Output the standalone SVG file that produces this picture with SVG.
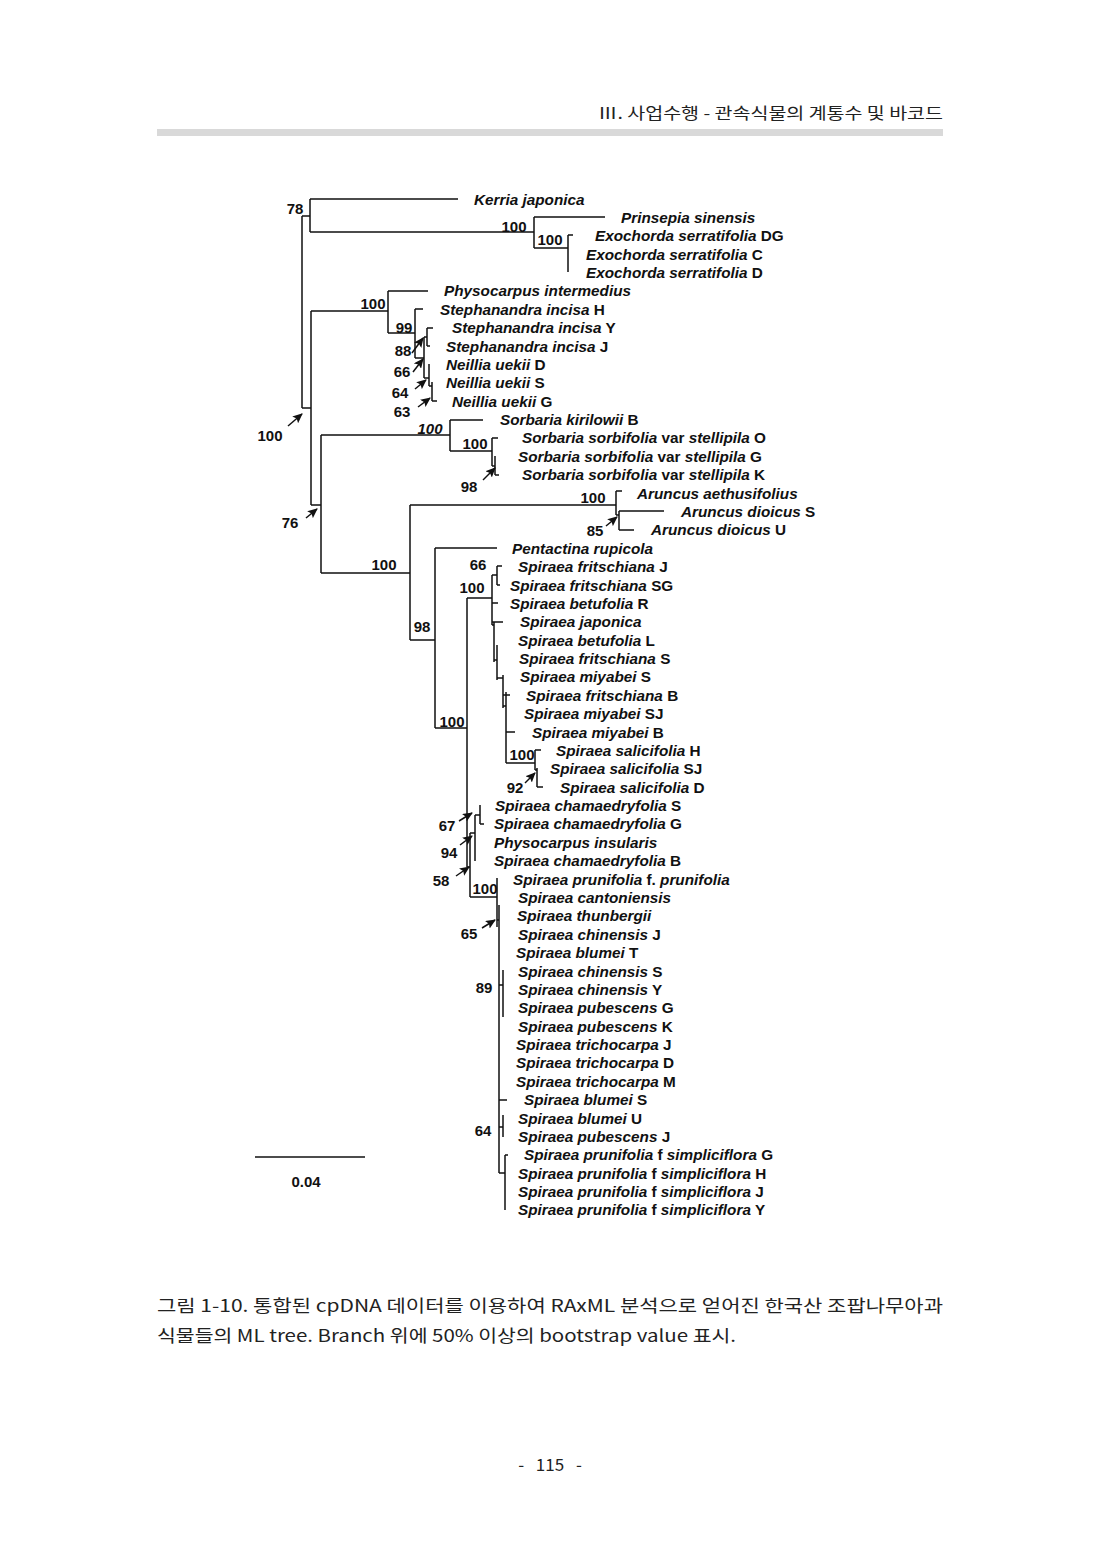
<svg xmlns="http://www.w3.org/2000/svg" width="1100" height="1554" viewBox="0 0 1100 1554">
<defs>
<style>
.sp{font-family:"Liberation Sans",Arial,sans-serif;font-size:15.3px;font-weight:bold;font-style:italic;fill:#111}
.n{font-style:normal}
.bs{font-family:"Liberation Sans",Arial,sans-serif;font-size:15px;font-weight:bold;fill:#111;text-anchor:middle}
.br{stroke:#111;stroke-width:1.5;fill:none}
.ar{stroke:#111;stroke-width:1.5;fill:none;marker-end:url(#ah)}
.kr{font-family:"Noto Sans CJK KR","Noto Sans",sans-serif;fill:#222}
</style>
<marker id="ah" markerUnits="userSpaceOnUse" markerWidth="10" markerHeight="9" refX="9" refY="4.5" orient="auto">
<path d="M0,0 L10,4.5 L0,9 L2,4.5 Z" fill="#111"/>
</marker>
</defs>
<rect width="1100" height="1554" fill="#fff"/>

<g id="header">
<text class="kr" x="598" y="119" font-size="16" textLength="345" lengthAdjust="spacingAndGlyphs">Ⅲ. 사업수행 - 관속식물의 계통수 및 바코드</text>
<rect x="157" y="129" width="786" height="7" fill="#d9d9d9"/>
</g>

<g id="connectors">
<path class="br" d="M302,216 V408 M302,216 H310 M310,199 V232 M310,199 H458 M310,232 H534
M534,217 V248 M534,217 H605 M534,248 H568 M568,235 V272 M568,235 H573
M302,408 H311 M311,311 V505 M311,311 H388
M388,291 V333 M388,291 H428 M388,333 H415
M415,309 V358 M415,309 H423 M415,358 H424
M424,337 V378 M424,337 H427 M427,328 V346 M427,328 H433 M427,346 H430
M424,378 H429 M429,364 V386 M429,386 H432 M432,382 V401 M432,401 H437
M311,505 H321 M321,435 V573 M321,435 H450
M450,420 V451 M450,420 H483 M450,451 H492
M492,438 V466 M492,438 H498 M492,466 H495 M495,456 V475 M495,475 H499
M321,573 H410 M410,505 V640 M410,505 H616
M616,491 V515 M616,491 H622 M616,515 H619 M619,511 V530 M619,511 H664 M619,530 H634
M410,640 H435 M435,548 V728 M435,548 H497 M435,728 H467
M467,598 V867 M467,598 H492
M492,575 V625 M492,575 H497 M497,566 V585 M497,566 H502 M497,585 H500
M492,603 H498 M492,622 H503
M492,625 H494 M494,622 V662 M494,660 H497 M497,645 V680 M497,678 H503 M503,675 V708 M503,706 H506 M506,692 V763
M503,695 H510 M506,732 H515 M506,763 H535
M535,750 V770 M535,750 H541 M535,770 H537 M537,768 V787 M537,787 H543
M467,867 H470 M470,833 V897 M470,833 H475 M475,815 V861 M475,815 H480 M480,805 V824 M480,824 H484
M470,897 H497 M497,878 V927 M497,920 H499 M499,905 V1173
M499,985 H503 M503,970 V1017
M499,1100 H507
M499,1127 H503 M503,1115 V1137
M499,1173 H505 M505,1155 V1210 M505,1155 H508"/>
<path class="ar" d="M412,353 L423,338"/>
<path class="ar" d="M413,372 L423,359"/>
<path class="ar" d="M415,389 L426,380"/>
<path class="ar" d="M418,407 L430,398"/>
<path class="ar" d="M288,426 L302,414"/>
<path class="ar" d="M306,518 L317,509"/>
<path class="ar" d="M483,480 L495,468"/>
<path class="ar" d="M606,526 L617,517"/>
<path class="ar" d="M525,783 L535,773"/>
<path class="ar" d="M459,821 L472,813"/>
<path class="ar" d="M460,845 L472,836"/>
<path class="ar" d="M456,876 L469,867"/>
<path class="ar" d="M482,928 L495,920"/>
</g>

<g id="support">
<text class="bs" x="295" y="214">78</text>
<text class="bs" x="514" y="232">100</text>
<text class="bs" x="550" y="245">100</text>
<text class="bs" x="373" y="309">100</text>
<text class="bs" x="404" y="333">99</text>
<text class="bs" x="403" y="356">88</text>
<text class="bs" x="402" y="377">66</text>
<text class="bs" x="400" y="398">64</text>
<text class="bs" x="402" y="417">63</text>
<text class="bs" x="270" y="441">100</text>
<text class="bs" x="430" y="434" font-style="italic">100</text>
<text class="bs" x="475" y="449">100</text>
<text class="bs" x="469" y="492">98</text>
<text class="bs" x="593" y="503">100</text>
<text class="bs" x="595" y="536">85</text>
<text class="bs" x="290" y="528">76</text>
<text class="bs" x="384" y="570">100</text>
<text class="bs" x="478" y="570">66</text>
<text class="bs" x="472" y="593">100</text>
<text class="bs" x="422" y="632">98</text>
<text class="bs" x="452" y="727">100</text>
<text class="bs" x="522" y="760">100</text>
<text class="bs" x="515" y="793">92</text>
<text class="bs" x="447" y="831">67</text>
<text class="bs" x="449" y="858">94</text>
<text class="bs" x="441" y="886">58</text>
<text class="bs" x="485" y="894">100</text>
<text class="bs" x="469" y="939">65</text>
<text class="bs" x="484" y="993">89</text>
<text class="bs" x="483" y="1136">64</text>
</g>

<g id="leaf01"><text class="sp" x="474" y="204.5">Kerria japonica</text></g>
<g id="leaf02"><text class="sp" x="621" y="222.9">Prinsepia sinensis</text></g>
<g id="leaf03"><text class="sp" x="595" y="241.3">Exochorda serratifolia<tspan class="n"> DG</tspan></text></g>
<g id="leaf04"><text class="sp" x="586" y="259.6">Exochorda serratifolia<tspan class="n"> C</tspan></text></g>
<g id="leaf05"><text class="sp" x="586" y="278">Exochorda serratifolia<tspan class="n"> D</tspan></text></g>
<g id="leaf06"><text class="sp" x="444" y="296.4">Physocarpus intermedius</text></g>
<g id="leaf07"><text class="sp" x="440" y="314.8">Stephanandra incisa<tspan class="n"> H</tspan></text></g>
<g id="leaf08"><text class="sp" x="452" y="333.2">Stephanandra incisa<tspan class="n"> Y</tspan></text></g>
<g id="leaf09"><text class="sp" x="446" y="351.5">Stephanandra incisa<tspan class="n"> J</tspan></text></g>
<g id="leaf10"><text class="sp" x="446" y="369.9">Neillia uekii<tspan class="n"> D</tspan></text></g>
<g id="leaf11"><text class="sp" x="446" y="388.3">Neillia uekii<tspan class="n"> S</tspan></text></g>
<g id="leaf12"><text class="sp" x="452" y="406.7">Neillia uekii<tspan class="n"> G</tspan></text></g>
<g id="leaf13"><text class="sp" x="500" y="425.1">Sorbaria kirilowii<tspan class="n"> B</tspan></text></g>
<g id="leaf14"><text class="sp" x="522" y="443.4">Sorbaria sorbifolia<tspan class="n"> var </tspan>stellipila<tspan class="n"> O</tspan></text></g>
<g id="leaf15"><text class="sp" x="518" y="461.8">Sorbaria sorbifolia<tspan class="n"> var </tspan>stellipila<tspan class="n"> G</tspan></text></g>
<g id="leaf16"><text class="sp" x="522" y="480.2">Sorbaria sorbifolia<tspan class="n"> var </tspan>stellipila<tspan class="n"> K</tspan></text></g>
<g id="leaf17"><text class="sp" x="637" y="498.6">Aruncus aethusifolius</text></g>
<g id="leaf18"><text class="sp" x="681" y="517">Aruncus dioicus<tspan class="n"> S</tspan></text></g>
<g id="leaf19"><text class="sp" x="651" y="535.3">Aruncus dioicus<tspan class="n"> U</tspan></text></g>
<g id="leaf20"><text class="sp" x="512" y="553.7">Pentactina rupicola</text></g>
<g id="leaf21"><text class="sp" x="518" y="572.1">Spiraea fritschiana<tspan class="n"> J</tspan></text></g>
<g id="leaf22"><text class="sp" x="510" y="590.5">Spiraea fritschiana<tspan class="n"> SG</tspan></text></g>
<g id="leaf23"><text class="sp" x="510" y="608.9">Spiraea betufolia<tspan class="n"> R</tspan></text></g>
<g id="leaf24"><text class="sp" x="520" y="627.2">Spiraea japonica</text></g>
<g id="leaf25"><text class="sp" x="518" y="645.6">Spiraea betufolia<tspan class="n"> L</tspan></text></g>
<g id="leaf26"><text class="sp" x="519" y="664">Spiraea fritschiana<tspan class="n"> S</tspan></text></g>
<g id="leaf27"><text class="sp" x="520" y="682.4">Spiraea miyabei<tspan class="n"> S</tspan></text></g>
<g id="leaf28"><text class="sp" x="526" y="700.8">Spiraea fritschiana<tspan class="n"> B</tspan></text></g>
<g id="leaf29"><text class="sp" x="524" y="719.1">Spiraea miyabei<tspan class="n"> SJ</tspan></text></g>
<g id="leaf30"><text class="sp" x="532" y="737.5">Spiraea miyabei<tspan class="n"> B</tspan></text></g>
<g id="leaf31"><text class="sp" x="556" y="755.9">Spiraea salicifolia<tspan class="n"> H</tspan></text></g>
<g id="leaf32"><text class="sp" x="550" y="774.3">Spiraea salicifolia<tspan class="n"> SJ</tspan></text></g>
<g id="leaf33"><text class="sp" x="560" y="792.7">Spiraea salicifolia<tspan class="n"> D</tspan></text></g>
<g id="leaf34"><text class="sp" x="495" y="811">Spiraea chamaedryfolia<tspan class="n"> S</tspan></text></g>
<g id="leaf35"><text class="sp" x="494" y="829.4">Spiraea chamaedryfolia<tspan class="n"> G</tspan></text></g>
<g id="leaf36"><text class="sp" x="494" y="847.8">Physocarpus insularis</text></g>
<g id="leaf37"><text class="sp" x="494" y="866.2">Spiraea chamaedryfolia<tspan class="n"> B</tspan></text></g>
<g id="leaf38"><text class="sp" x="513" y="884.6">Spiraea prunifolia<tspan class="n"> f. </tspan>prunifolia</text></g>
<g id="leaf39"><text class="sp" x="518" y="902.9">Spiraea cantoniensis</text></g>
<g id="leaf40"><text class="sp" x="517" y="921.3">Spiraea thunbergii</text></g>
<g id="leaf41"><text class="sp" x="518" y="939.7">Spiraea chinensis<tspan class="n"> J</tspan></text></g>
<g id="leaf42"><text class="sp" x="516" y="958.1">Spiraea blumei<tspan class="n"> T</tspan></text></g>
<g id="leaf43"><text class="sp" x="518" y="976.5">Spiraea chinensis<tspan class="n"> S</tspan></text></g>
<g id="leaf44"><text class="sp" x="518" y="994.8">Spiraea chinensis<tspan class="n"> Y</tspan></text></g>
<g id="leaf45"><text class="sp" x="518" y="1013.2">Spiraea pubescens<tspan class="n"> G</tspan></text></g>
<g id="leaf46"><text class="sp" x="518" y="1031.6">Spiraea pubescens<tspan class="n"> K</tspan></text></g>
<g id="leaf47"><text class="sp" x="516" y="1050">Spiraea trichocarpa<tspan class="n"> J</tspan></text></g>
<g id="leaf48"><text class="sp" x="516" y="1068.4">Spiraea trichocarpa<tspan class="n"> D</tspan></text></g>
<g id="leaf49"><text class="sp" x="516" y="1086.7">Spiraea trichocarpa<tspan class="n"> M</tspan></text></g>
<g id="leaf50"><text class="sp" x="524" y="1105.1">Spiraea blumei<tspan class="n"> S</tspan></text></g>
<g id="leaf51"><text class="sp" x="518" y="1123.5">Spiraea blumei<tspan class="n"> U</tspan></text></g>
<g id="leaf52"><text class="sp" x="518" y="1141.9">Spiraea pubescens<tspan class="n"> J</tspan></text></g>
<g id="leaf53"><text class="sp" x="524" y="1160.3">Spiraea prunifolia<tspan class="n"> f </tspan>simpliciflora<tspan class="n"> G</tspan></text></g>
<g id="leaf54"><text class="sp" x="518" y="1178.6">Spiraea prunifolia<tspan class="n"> f </tspan>simpliciflora<tspan class="n"> H</tspan></text></g>
<g id="leaf55"><text class="sp" x="518" y="1197">Spiraea prunifolia<tspan class="n"> f </tspan>simpliciflora<tspan class="n"> J</tspan></text></g>
<g id="leaf56"><text class="sp" x="518" y="1215.4">Spiraea prunifolia<tspan class="n"> f </tspan>simpliciflora<tspan class="n"> Y</tspan></text></g>

<g id="scalebar">
<path class="br" d="M255,1157 H365"/>
<text class="bs" x="306" y="1187">0.04</text>
</g>

<g id="caption">
<text class="kr" x="157" y="1312" font-size="17" textLength="786" lengthAdjust="spacingAndGlyphs">그림 1-10. 통합된 cpDNA 데이터를 이용하여 RAxML 분석으로 얻어진 한국산 조팝나무아과</text>
<text class="kr" x="157" y="1342" font-size="17" textLength="579" lengthAdjust="spacingAndGlyphs">식물들의 ML tree. Branch 위에 50% 이상의 bootstrap value 표시.</text>
<text class="kr" x="550" y="1471" font-size="17" text-anchor="middle" word-spacing="8">- 115 -</text>
</g>
</svg>
